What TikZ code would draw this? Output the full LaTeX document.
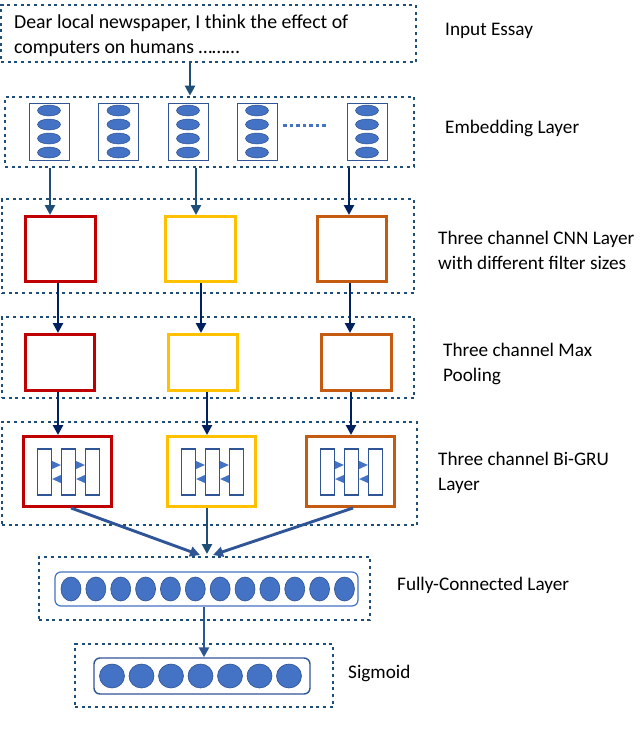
\documentclass[tikz,border=0pt]{standalone}
\usepackage{fontspec}
\setmainfont{Carlito}
\usetikzlibrary{arrows.meta,shapes.geometric}
\definecolor{dotblue}{RGB}{31,78,121}
\definecolor{navy}{RGB}{0,32,96}
\definecolor{midblue}{RGB}{47,85,151}
\definecolor{fillblue}{RGB}{68,114,196}
\definecolor{edgeblue}{RGB}{47,82,143}
\definecolor{cred}{RGB}{192,0,0}
\definecolor{cyellow}{RGB}{255,192,0}
\definecolor{corange}{RGB}{197,90,17}
\begin{document}
\begin{tikzpicture}[x=1pt,y=-1pt,
  dotbox/.style={draw=dotblue, line width=2.8pt, dash pattern=on 3pt off 3.7pt, inner sep=0pt, rectangle},
  chbox/.style={draw=#1, line width=3pt, inner sep=0pt, fill=white, rectangle},
  embcol/.style={draw=midblue, line width=0.8pt, minimum width=40pt, minimum height=57pt, inner sep=0pt},
  embell/.style={ellipse, fill=fillblue, draw=edgeblue, line width=0.5pt, minimum width=23pt, minimum height=11pt, inner sep=0pt},
  gruin/.style={draw=midblue, line width=1.3pt, minimum width=14pt, minimum height=46pt, inner sep=0pt},
  trifill/.style={fill=fillblue},
  neuron/.style={ellipse, fill=fillblue, draw=edgeblue, line width=0.6pt, inner sep=0pt},
  arr/.style={-{Triangle[length=10pt,width=10pt]}, line width=2.9pt},
  lbl/.style={anchor=west, align=left, font=\fontsize{19.2}{25}\selectfont, inner sep=0pt}
]
\useasboundingbox (0,0) rectangle (640,731);

% layer frames
\node[dotbox, minimum width=415pt, minimum height=57pt] (essay) at (208.5,33.5) {};
\node[dotbox, minimum width=409pt, minimum height=70pt] (emb) at (209.5,132) {};
\node[dotbox, minimum width=412pt, minimum height=94pt] (cnnL) at (208,246) {};
\node[dotbox, minimum width=412pt, minimum height=81pt] (poolL) at (208,357.5) {};
\node[dotbox, minimum width=415pt, minimum height=103pt] (gruL) at (209.5,473.5) {};
\node[dotbox, minimum width=331pt, minimum height=63pt] (fcL) at (204.5,588.5) {};
\node[dotbox, minimum width=258pt, minimum height=63pt] (sigL) at (204,675.5) {};

% essay text
\node[lbl, font=\fontsize{19.8}{25}\selectfont] (essaytxt) at (14,35.5)
  {Dear local newspaper, I think the effect of\\computers on humans ………};

% embedding columns
\foreach \n/\x in {1/49,2/118.5,3/188,4/257,5/367}{
  \node[embcol] (e\n) at (\x,131.5) {};
  \foreach \m/\y in {a/110.5,b/124.5,c/138.5,d/152.5}{
    \node[embell] (e\n\m) at (\x,\y) {};
  }
}
\coordinate (dotsA) at (283,125);
\coordinate (dotsB) at (328,125);
\draw[draw=fillblue, line width=3pt, dash pattern=on 3.5pt off 3pt] (dotsA) -- (dotsB);

% CNN boxes
\node[chbox=cred, minimum width=70pt, minimum height=65pt] (c1) at (60.5,249) {};
\node[chbox=cyellow, minimum width=70pt, minimum height=65pt] (c2) at (200,249) {};
\node[chbox=corange, minimum width=69pt, minimum height=65pt] (c3) at (352,249) {};

% pooling boxes
\node[chbox=cred, minimum width=69pt, minimum height=56pt] (p1) at (60,362.5) {};
\node[chbox=cyellow, minimum width=69pt, minimum height=56pt] (p2) at (203,362.5) {};
\node[chbox=corange, minimum width=70pt, minimum height=56pt] (p3) at (356.5,362.5) {};

% Bi-GRU boxes
\node[chbox=cred, minimum width=88pt, minimum height=70pt] (g1) at (67.5,471.5) {};
\node[chbox=cyellow, minimum width=88pt, minimum height=70pt] (g2) at (211.5,471.5) {};
\node[chbox=corange, minimum width=88pt, minimum height=70pt] (g3) at (350.5,471.5) {};

\foreach \g/\x in {1/68.5,2/212.5,3/351.5}{
  \node[gruin] (g\g a) at (\x-24,472) {};
  \node[gruin] (g\g b) at (\x,472) {};
  \node[gruin] (g\g c) at (\x+24,472) {};
  \fill[trifill] ([yshift=11pt]g\g a.east) -- ([yshift=7pt]g\g b.west) -- ([yshift=3pt]g\g a.east) -- cycle;
  \fill[trifill] ([yshift=-3pt]g\g b.west) -- ([yshift=-7pt]g\g a.east) -- ([yshift=-11pt]g\g b.west) -- cycle;
  \fill[trifill] ([yshift=11pt]g\g b.east) -- ([yshift=7pt]g\g c.west) -- ([yshift=3pt]g\g b.east) -- cycle;
  \fill[trifill] ([yshift=-3pt]g\g c.west) -- ([yshift=-7pt]g\g b.east) -- ([yshift=-11pt]g\g c.west) -- cycle;
}

% fully connected
\node[draw=fillblue, line width=1.2pt, rounded corners=6pt, minimum width=303pt, minimum height=34pt, inner sep=0pt] (fc) at (206.5,589) {};
\foreach \i in {0,...,11}{
  \node[neuron, minimum width=20pt, minimum height=24pt] (f\i) at (71+24.86*\i,589) {};
}
% sigmoid
\node[draw=midblue, line width=1.4pt, rounded corners=6pt, minimum width=216pt, minimum height=36pt, inner sep=0pt] (sg) at (202,676) {};
\foreach \i in {0,...,6}{
  \node[neuron, minimum width=25pt, minimum height=24pt] (s\i) at (112+29.5*\i,676) {};
}

% arrows
\draw[arr, dotblue] (essay.south -| 190,0) -- (emb.north -| 190,0);
\draw[arr, dotblue] (emb.south -| 50,0) -- (c1.north -| 50,0);
\draw[arr, dotblue] (emb.south -| 196,0) -- (c2.north -| 196,0);
\draw[arr, navy] (emb.south -| 349,0) -- (c3.north -| 349,0);
\draw[arr, navy] (c1.south -| 58,0) -- (p1.north -| 58,0);
\draw[arr, navy] (c2.south -| 201,0) -- (p2.north -| 201,0);
\draw[arr, navy] (c3.south -| 350,0) -- (p3.north -| 350,0);
\draw[arr, navy] (p1.south -| 58,0) -- (g1.north -| 58,0);
\draw[arr, navy] (p2.south -| 207,0) -- (g2.north -| 207,0);
\draw[arr, navy] (p3.south -| 351,0) -- (g3.north -| 351,0);
\coordinate (m1) at (200,555);
\coordinate (m2) at (207,554);
\coordinate (m3) at (213,555);
\draw[arr, midblue] (g1.south -| 71,0) -- (m1);
\draw[arr, dotblue] (g2.south -| 207,0) -- (m2);
\draw[arr, midblue] (g3.south -| 353,0) -- (m3);
\draw[arr, midblue] (fc.south -| 204,0) -- (sg.north -| 204,0);

% labels
\node[lbl] (t1) at (445,31) {Input Essay};
\node[lbl] (t2) at (445,128) {Embedding Layer};
\node[lbl] (t3) at (438,250.5) {Three channel CNN Layer\\with different filter sizes};
\node[lbl] (t4) at (443,364) {Three channel Max\\Pooling};
\node[lbl] (t5) at (438,472.5) {Three channel Bi-GRU\\Layer};
\node[lbl] (t6) at (397,585) {Fully-Connected Layer};
\node[lbl] (t7) at (348,673) {Sigmoid};
\end{tikzpicture}
\end{document}
